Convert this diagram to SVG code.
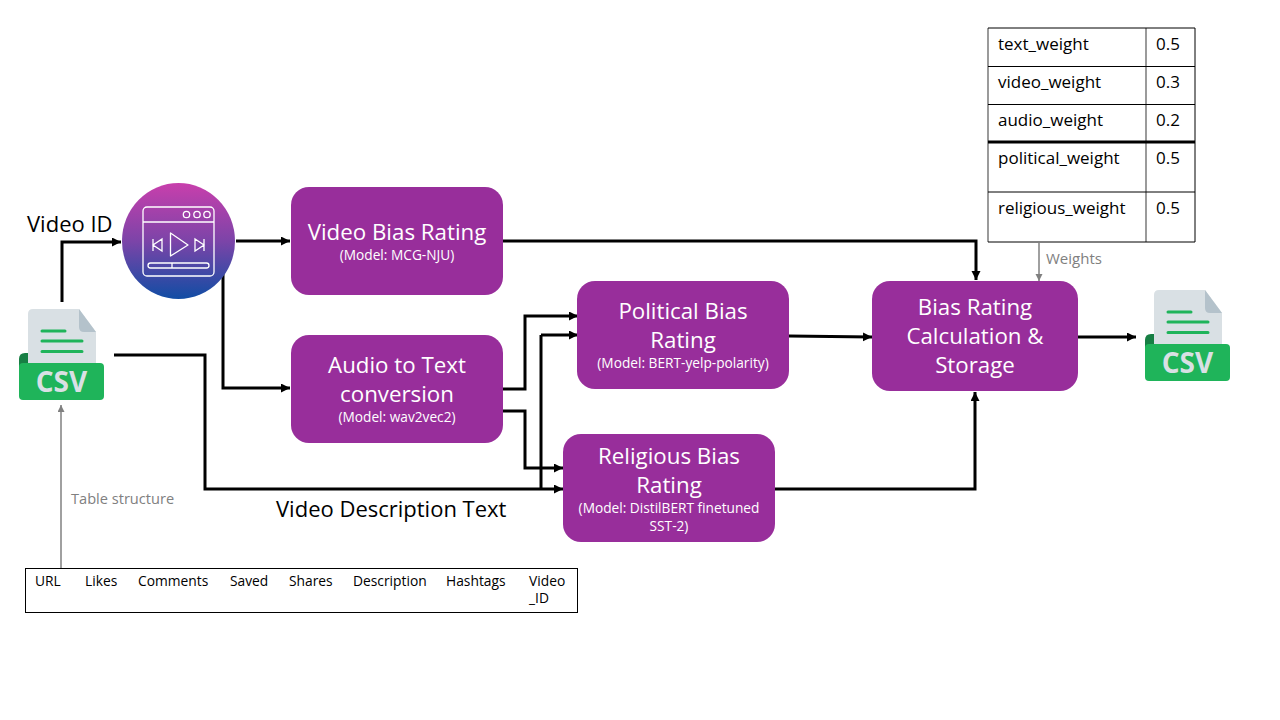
<svg xmlns="http://www.w3.org/2000/svg" xmlns:xlink="http://www.w3.org/1999/xlink" width="1280" height="720" viewBox="0 0 1280 720">
<style>
text{font-family:"Open Sans","Noto Sans","Liberation Sans",sans-serif}
.box{fill:#982e9b}
.t{fill:#fff;font-size:22.300px;text-anchor:middle}
.s{fill:#fff;font-size:13.700px;text-anchor:middle}
.c{fill:none;stroke:#000;stroke-width:3}
.g{fill:none;stroke:#808080;stroke-width:1.500}
.lab{fill:#000;font-size:22px}
.gl{fill:#808080;font-size:14.600px}
.tb{fill:#000;font-size:17px}
.hd{fill:#000;font-size:13.800px}
.ln{stroke:#000;stroke-width:1}
.lg{stroke:#666;stroke-width:1.300}
</style>
<defs>
<marker id="a" markerUnits="userSpaceOnUse" markerWidth="12" markerHeight="10" refX="9" refY="4.500" orient="auto"><path d="M0 0L9 4.500L0 9Z" fill="#000"/></marker>
<marker id="ag" markerUnits="userSpaceOnUse" markerWidth="10" markerHeight="8" refX="7" refY="3.500" orient="auto"><path d="M0 0L7 3.500L0 7Z" fill="#808080"/></marker>
<linearGradient id="vg" x1="0" y1="0" x2="0" y2="1"><stop offset="0" stop-color="#c83fac"/><stop offset="0.5" stop-color="#7c44a8"/><stop offset="1" stop-color="#114da4"/></linearGradient>
<g id="csv">
<path d="M0 50Q0 44 6 44H12V60H0Z" fill="#177f44"/>
<path d="M9 5Q9 0 14 0H60L77 23V60H9Z" fill="#d9e0e4"/>
<path d="M60 0L77 23H65Q60 23 60 18Z" fill="#b4c2cb"/>
<path d="M23 22H46M23 32H63M23 42.500H63" stroke="#1fb45a" stroke-width="3" stroke-linecap="round" fill="none"/>
<rect x="0" y="54" width="85" height="37" rx="4" fill="#1fb45a"/>
<text x="42.500" y="83" text-anchor="middle" style="font-size:28px;font-weight:700" fill="#d9e0e4">CSV</text>
</g>
</defs>

<g id="connectors">
<path class="c" marker-end="url(#a)" d="M62 302V242H121"/>
<path class="c" marker-end="url(#a)" d="M236 241H290"/>
<path class="c" marker-end="url(#a)" d="M223 274V388H290"/>
<path class="c" marker-end="url(#a)" d="M114 355H205V489H563"/>
<path class="c" d="M541 489V335"/>
<path class="c" marker-end="url(#a)" d="M541 335H578"/>
<path class="c" marker-end="url(#a)" d="M503 389H525V316H578"/>
<path class="c" marker-end="url(#a)" d="M503 411H525V468H563"/>
<path class="c" marker-end="url(#a)" d="M503 241H976V280"/>
<path class="c" marker-end="url(#a)" d="M789 336L872 337"/>
<path class="c" marker-end="url(#a)" d="M775 489H975V392"/>
<path class="c" marker-end="url(#a)" d="M1078 337H1136"/>
<path class="g" marker-end="url(#ag)" d="M61 568V405"/>
<path class="g" marker-end="url(#ag)" d="M1039 243V281"/>
</g>

<g id="csv-input"><use href="#csv" x="19" y="309"/></g>
<g id="csv-output"><use href="#csv" x="1145" y="290"/></g>

<g id="video-icon">
<ellipse cx="178.500" cy="241" rx="56.500" ry="58" fill="url(#vg)"/>
<g fill="none" stroke="#fff" stroke-width="1.300">
<rect x="143" y="207" width="71" height="69" rx="4"/>
<path d="M143 222H214"/>
<circle cx="186.500" cy="214.500" r="3.200"/><circle cx="197" cy="214.500" r="3.200"/><circle cx="207" cy="214.500" r="3.200"/>
<path d="M170.500 233L188 245L170.500 256Z" stroke-linejoin="round"/>
<path d="M162 239V251L153 245ZM153 239V251M195 239V251L204 245ZM204 239V251"/>
<rect x="148" y="263" width="61" height="5" rx="2.500"/>
<path d="M172 263V268"/>
</g>
</g>

<g id="video-bias"><rect class="box" x="291" y="187" width="212" height="108" rx="18"/>
<text class="t" x="397" y="240">Video Bias Rating</text><text class="s" x="397" y="260">(Model: MCG-NJU)</text></g>
<g id="audio-text"><rect class="box" x="291" y="335" width="212" height="108" rx="18"/>
<text class="t" x="397" y="373">Audio to Text</text><text class="t" x="397" y="402">conversion</text><text class="s" x="397" y="422">(Model: wav2vec2)</text></g>
<g id="political-bias"><rect class="box" x="577" y="281" width="212" height="108" rx="18"/>
<text class="t" x="683" y="319">Political Bias</text><text class="t" x="683" y="348">Rating</text><text class="s" x="683" y="368">(Model: BERT-yelp-polarity)</text></g>
<g id="religious-bias"><rect class="box" x="563" y="434" width="212" height="108" rx="18"/>
<text class="t" x="669" y="464">Religious Bias</text><text class="t" x="669" y="493">Rating</text><text class="s" x="669" y="513">(Model: DistilBERT finetuned</text><text class="s" x="669" y="531">SST-2)</text></g>
<g id="bias-calc"><rect class="box" x="872" y="281" width="206" height="110" rx="18"/>
<text class="t" x="975" y="315">Bias Rating</text><text class="t" x="975" y="344">Calculation &amp;</text><text class="t" x="975" y="373">Storage</text></g>

<text class="lab" x="27" y="232">Video ID</text>
<text class="lab" x="276" y="517">Video Description Text</text>
<text class="gl" x="71" y="504">Table structure</text>
<text class="gl" x="1046" y="264" style="font-size:15px">Weights</text>

<g id="weights-table">
<path class="lg" d="M988 28V242M1146 28V242"/>
<path class="ln" d="M988 28H1195M988 66.500H1195M988 104.500H1195M988 192H1195M988 242H1195M1195 28V242"/>
<path stroke="#000" stroke-width="3" d="M988 142H1195"/>
<text class="tb" x="998" y="50">text_weight</text><text class="tb" x="1156" y="50">0.5</text>
<text class="tb" x="998" y="88">video_weight</text><text class="tb" x="1156" y="88">0.3</text>
<text class="tb" x="998" y="126">audio_weight</text><text class="tb" x="1156" y="126">0.2</text>
<text class="tb" x="998" y="164">political_weight</text><text class="tb" x="1156" y="164">0.5</text>
<text class="tb" x="998" y="214">religious_weight</text><text class="tb" x="1156" y="214">0.5</text>
</g>

<g id="columns-table">
<rect x="25.500" y="568.500" width="552" height="44" fill="none" stroke="#000" stroke-width="1"/>
<text class="hd" x="35" y="586">URL</text>
<text class="hd" x="85" y="586">Likes</text>
<text class="hd" x="138" y="586">Comments</text>
<text class="hd" x="230" y="586">Saved</text>
<text class="hd" x="289" y="586">Shares</text>
<text class="hd" x="353" y="586">Description</text>
<text class="hd" x="446" y="586">Hashtags</text>
<text class="hd" x="529" y="586">Video</text>
<text class="hd" x="529" y="603">_ID</text>
</g>
</svg>
